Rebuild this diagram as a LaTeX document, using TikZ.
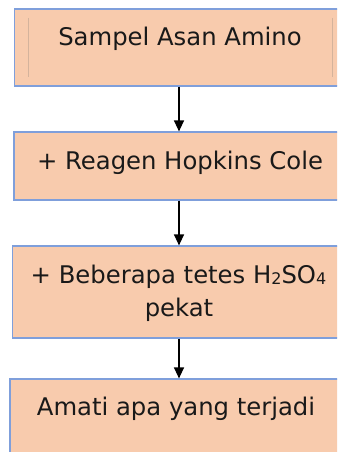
\documentclass[tikz,border=0pt]{standalone}
\usepackage{fontspec}
\setmainfont{DejaVu Sans}
\usetikzlibrary{arrows.meta}
\definecolor{boxfill}{HTML}{F8CBAD}
\definecolor{boxline}{HTML}{7F9FDB}
\definecolor{innerline}{HTML}{D4B39C}
\tikzset{
  stepbox/.style={draw=boxline, line width=1.2pt, fill=boxfill, rectangle, inner sep=0pt},
  txt/.style={anchor=base, inner sep=0pt, font=\fontsize{24.3}{33}\selectfont, text=black!90},
  arr/.style={line width=1.3pt, -{Triangle[length=11pt,width=10pt]}},
}
\begin{document}
\begin{tikzpicture}[x=1pt,y=-1pt]
\useasboundingbox (0,0) rectangle (337,452);
\clip (0,0) rectangle (337,452);
\node[stepbox, minimum width=331.5pt, minimum height=77pt] (b1) at (180.25,47.5) {};
\node[stepbox, minimum width=332pt, minimum height=68pt] (b2) at (180,166) {};
\node[stepbox, minimum width=333.5pt, minimum height=92pt] (b3) at (179.25,292) {};
\node[stepbox, minimum width=336pt, minimum height=81pt] (b4) at (178,419.5) {};
\draw[innerline, line width=1pt] (28,18) -- (28,77);
\draw[innerline, line width=1pt] (332,18) -- (332,77);
\node[txt] (t1) at (180,46) {Sampel Asan Amino};
\node[txt] (t2) at (180,169) {+ Reagen Hopkins Cole};
\node[txt] (t3) at (178.5,283) {+ Beberapa tetes H\raisebox{-0.12ex}{\fontsize{16}{16}\selectfont 2}SO\raisebox{-0.12ex}{\fontsize{16}{16}\selectfont 4}};
\node[txt] (t3b) at (179,316) {pekat};
\node[txt] (t4) at (176,415) {Amati apa yang terjadi};
\coordinate (ax) at (179,0);
\draw[arr] (b1.south -| ax) -- (b2.north -| ax);
\draw[arr] (b2.south -| ax) -- (b3.north -| ax);
\draw[arr] (b3.south -| ax) -- (b4.north -| ax);
\end{tikzpicture}
\end{document}
